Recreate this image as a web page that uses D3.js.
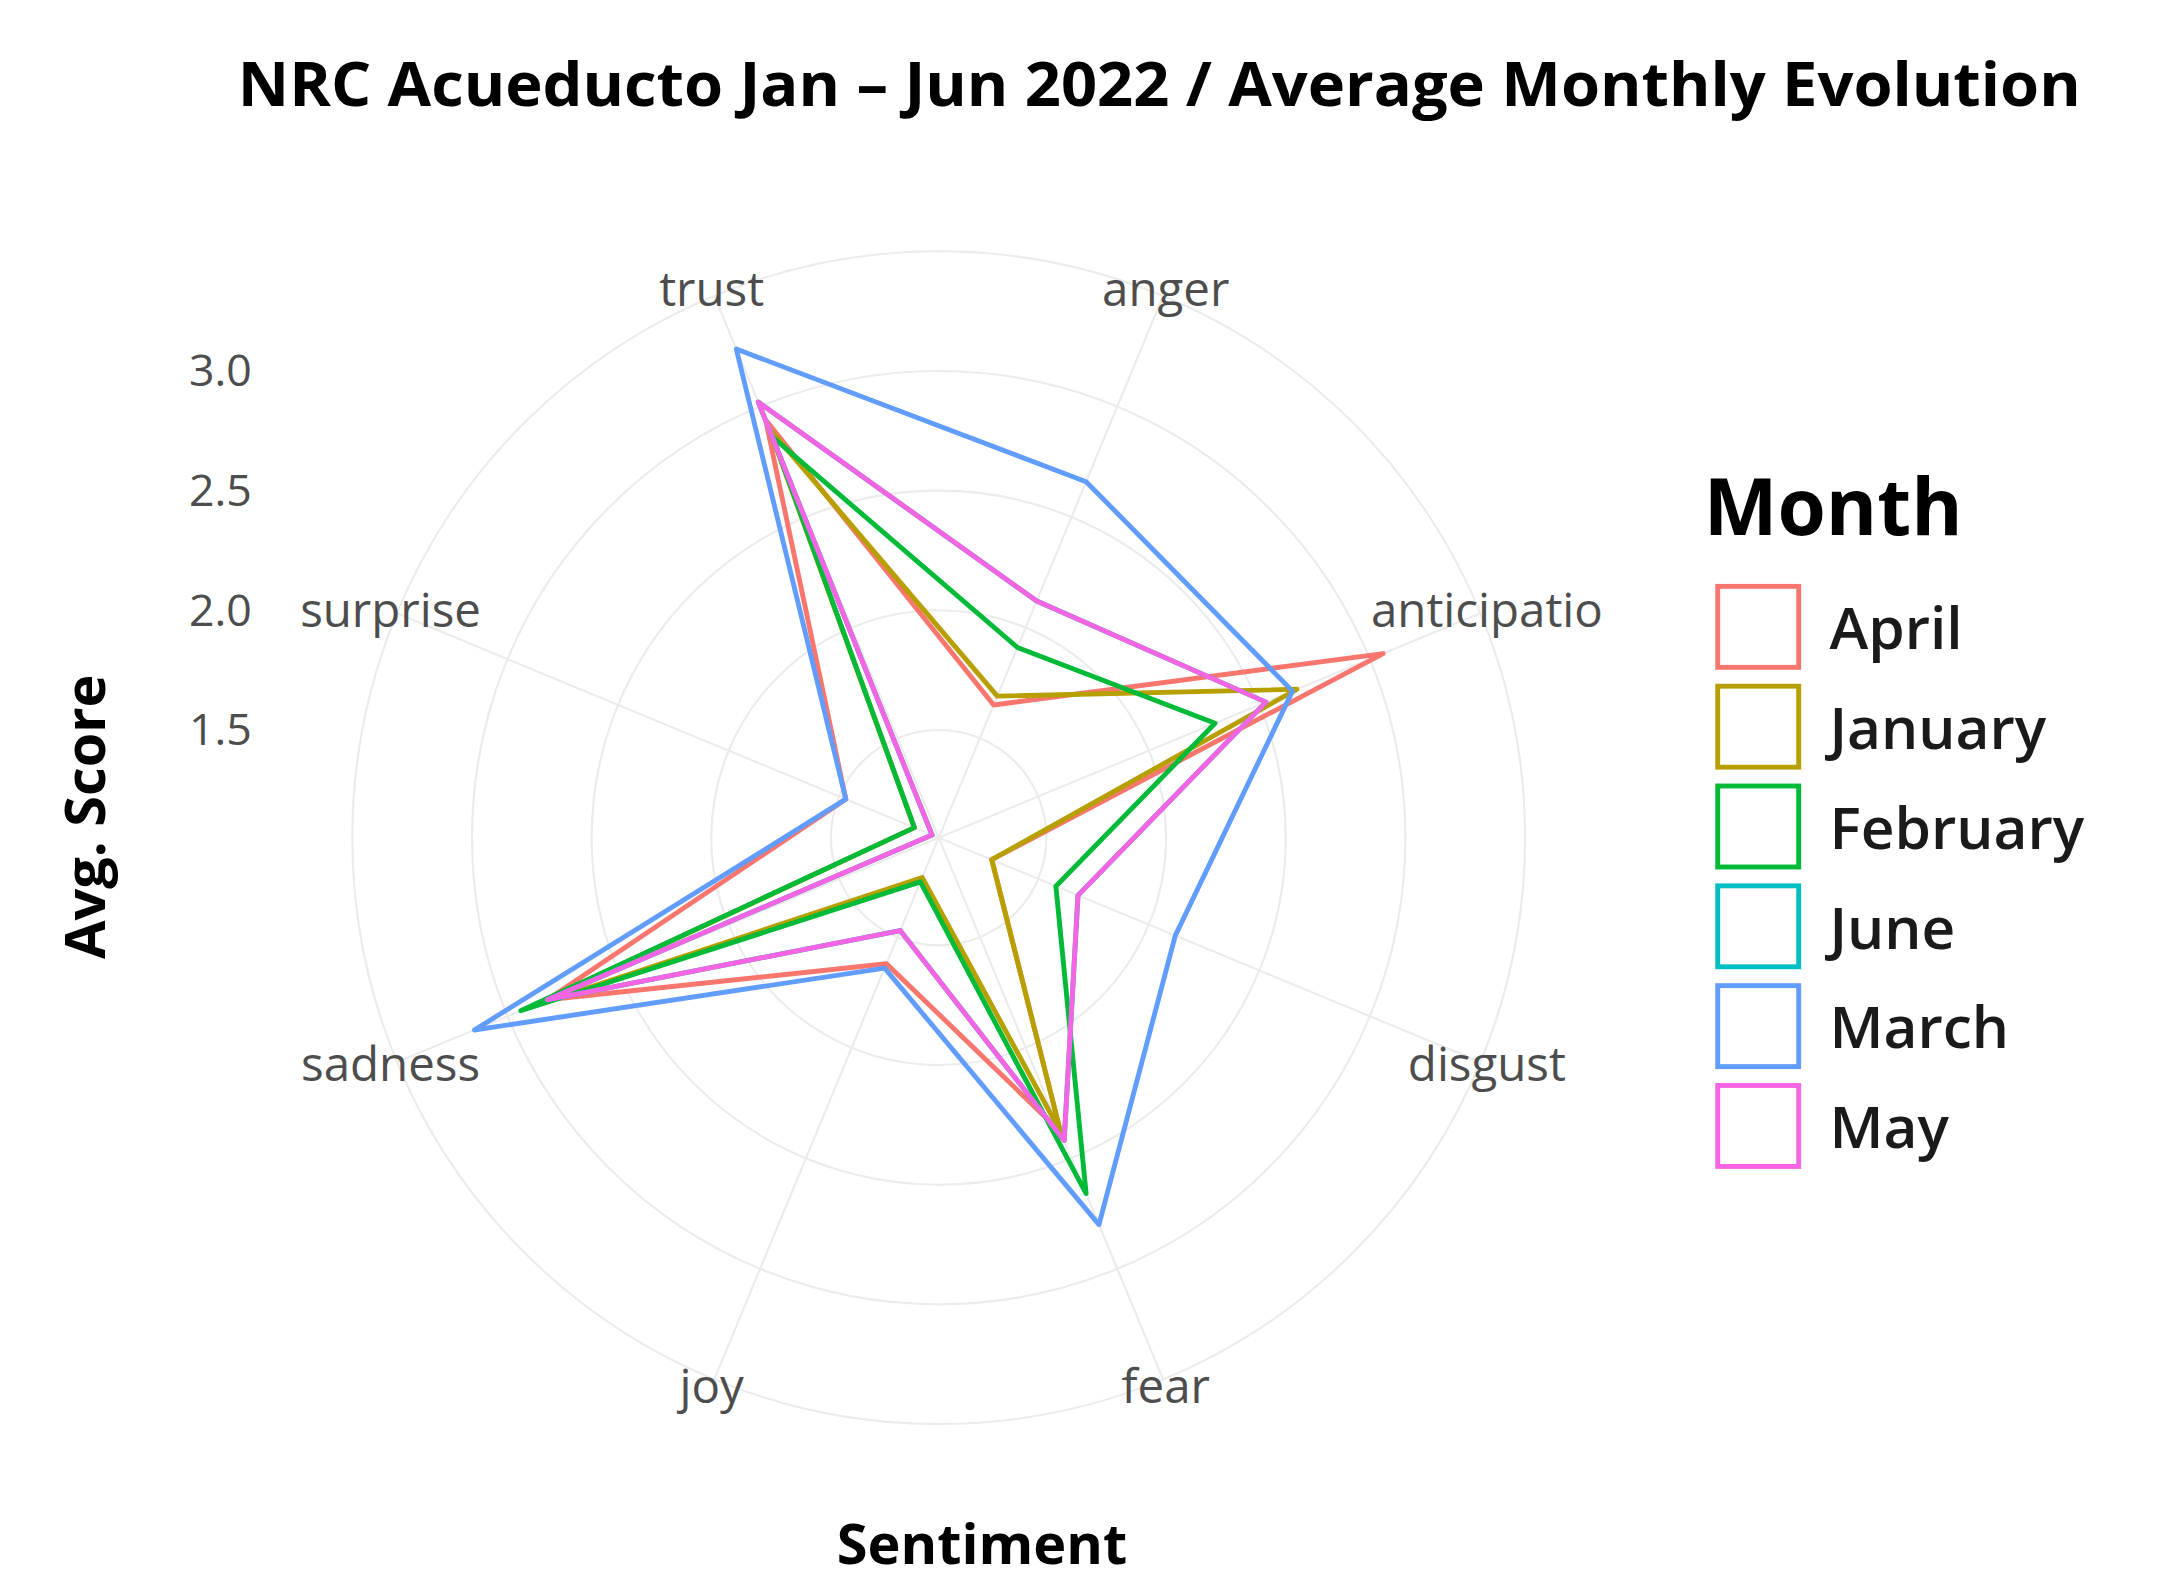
<!DOCTYPE html>
<html><head><meta charset="utf-8">
<script src="https://cdn.jsdelivr.net/npm/d3@7"></script>
<style>body{margin:0;background:#fff}</style>
</head><body>
<script>
// data
const sentiments = ["trust","anger","anticipatio","disgust","fear","joy","sadness","surprise"];
const months = ["April","January","February","June","March","May"];
const colors = ["#F8766D","#B79F00","#00BA38","#00BFC4","#619CFF","#F564E3"];
const april    = [2.94,1.65,3.06,1.29,2.38,1.62,2.82,1.47];
const january  = [2.90,1.69,2.67,1.29,2.38,1.23,2.90,1.16];
const february = [2.86,1.91,2.30,1.58,2.66,1.25,2.94,1.16];
const june     = [3.02,2.12,2.53,1.68,2.42,1.47,2.82,1.08];
const march    = [3.26,2.66,2.65,2.12,2.80,1.64,3.15,1.47];
const may      = [3.02,2.12,2.53,1.68,2.42,1.47,2.82,1.08];
const series = [april,january,february,june,march,may];
const ticks = [1.5,2.0,2.5,3.0];

const svg = d3.select("body").append("svg")
              .attr("width",2158).attr("height",1579)
              .attr("viewBox","0 0 1545 1131");
const font = "'Open Sans', sans-serif";
const cx = 672, cy = 600;

const r = d3.scaleLinear().domain([1.05,3.5]).range([0,420]);
const ang = d3.scaleBand().domain(sentiments).range([-Math.PI/8, 2*Math.PI-Math.PI/8]);
const g = svg.append("g").attr("transform","translate("+cx+","+cy+")");

// grid
[1.5,2.0,2.5,3.0,3.5].forEach(v => {
  g.append("circle").attr("r",r(v)).attr("fill","none").attr("stroke","#ebebeb").attr("stroke-width",1.5);
});
sentiments.forEach(s => {
  const a = ang(s);
  g.append("line").attr("x1",0).attr("y1",0)
   .attr("x2",r(3.5)*Math.sin(a)).attr("y2",-r(3.5)*Math.cos(a))
   .attr("stroke","#ebebeb").attr("stroke-width",1.5);
  g.append("text").attr("x",425*Math.sin(a)).attr("y",-425*Math.cos(a)+12)
   .attr("text-anchor","middle").attr("font-family",font).attr("font-size",34)
   .attr("fill","#4d4d4d").text(s);
});

// series lines
const line = d3.lineRadial()
               .angle((d,i) => ang(sentiments[i]))
               .radius(d => r(d))
               .curve(d3.curveLinearClosed);
series.forEach((s,i) => {
  g.append("path").attr("d",line(s)).attr("fill","none")
   .attr("stroke",colors[i]).attr("stroke-width",3.5).attr("stroke-linejoin","round");
});

// radial tick labels
ticks.forEach(t => {
  svg.append("text").attr("x",180).attr("y",cy - r(t) + 11)
     .attr("text-anchor","end").attr("font-family",font).attr("font-size",32)
     .attr("fill","#4d4d4d").text(t.toFixed(1));
});

// titles
svg.append("text").attr("x",830).attr("y",76).attr("text-anchor","middle")
   .attr("font-family",font).attr("font-weight","bold").attr("font-size",44)
   .attr("textLength",1320).attr("lengthAdjust","spacingAndGlyphs")
   .text("NRC Acueducto Jan – Jun 2022 / Average Monthly Evolution");
svg.append("text").attr("x",703).attr("y",1120).attr("text-anchor","middle")
   .attr("font-family",font).attr("font-weight","bold").attr("font-size",40)
   .text("Sentiment");
svg.append("text").attr("transform","translate(75,585) rotate(-90)").attr("text-anchor","middle")
   .attr("font-family",font).attr("font-weight","bold").attr("font-size",40)
   .text("Avg. Score");

// legend
const leg = svg.append("g").attr("transform","translate(1220,328)");
leg.append("text").attr("x",0).attr("y",55).attr("font-family",font)
   .attr("font-weight","bold").attr("font-size",56).text("Month");
months.forEach((m,i) => {
  const y = 92 + i*71.5;
  leg.append("rect").attr("x",10).attr("y",y).attr("width",58).attr("height",58)
     .attr("fill","none").attr("stroke",colors[i]).attr("stroke-width",3.5);
  leg.append("text").attr("x",90).attr("y",y+45).attr("font-family",font)
     .attr("font-size",42).attr("font-weight",600).attr("fill","#1a1a1a").text(m);
});
</script>
</body></html>
